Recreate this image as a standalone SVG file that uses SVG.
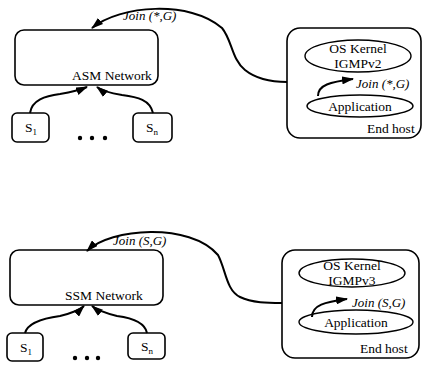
<svg xmlns="http://www.w3.org/2000/svg" width="423" height="365" viewBox="0 0 423 365">
<style>
.box{fill:#fff;stroke:#000;stroke-width:1.6}
.ell{fill:#fff;stroke:#000;stroke-width:1.4}
.t{font-family:"Liberation Serif","Times New Roman",serif;font-size:13.5px;fill:#000}
.lbl{font-family:"Liberation Serif","Times New Roman",serif;font-size:13px;font-style:italic;fill:#000}
.c{fill:none;stroke:#000;stroke-width:2}
</style>
<defs>
<marker id="ah" viewBox="0 0 12 8" refX="11" refY="4" markerWidth="12" markerHeight="8" markerUnits="userSpaceOnUse" orient="auto">
<path d="M0,0 L12,4 L0,8 Z" fill="#000"/>
</marker>
</defs>
<rect width="423" height="365" fill="#fff"/>

<!-- Top: ASM -->
<g id="asm-network">
<rect class="box" x="15" y="30" width="143" height="55" rx="9"/>
<text class="t" x="72" y="80">ASM Network</text>
</g>
<g id="asm-s1">
<rect class="box" x="12" y="113" width="37" height="29" rx="5"/>
<text class="t" x="25" y="132">S<tspan font-size="9" dy="3">1</tspan></text>
</g>
<g id="asm-sn">
<rect class="box" x="133" y="113" width="39" height="29" rx="5"/>
<text class="t" x="146" y="132">S<tspan font-size="9" dy="3">n</tspan></text>
</g>
<g id="asm-dots">
<circle cx="80" cy="138" r="2.2"/><circle cx="92" cy="138" r="2.2"/><circle cx="105" cy="138" r="2.2"/>
</g>
<g id="asm-host">
<rect class="box" x="287" y="28" width="134" height="110" rx="13"/>
<text class="t" x="367" y="133">End host</text>
</g>
<g id="asm-kernel">
<ellipse class="ell" cx="358" cy="56" rx="53" ry="16"/>
<text class="t" x="358" y="53" text-anchor="middle">OS Kernel</text>
<text class="t" x="358" y="68" text-anchor="middle">IGMPv2</text>
</g>
<g id="asm-app">
<ellipse class="ell" cx="360" cy="106" rx="53" ry="11"/>
<text class="t" x="360" y="111" text-anchor="middle">Application</text>
</g>

<!-- Bottom: SSM -->
<g id="ssm-network">
<rect class="box" x="10" y="250" width="153" height="55" rx="9"/>
<text class="t" x="65" y="300">SSM Network</text>
</g>
<g id="ssm-s1">
<rect class="box" x="7" y="333" width="36" height="28" rx="5"/>
<text class="t" x="20" y="352">S<tspan font-size="9" dy="3">1</tspan></text>
</g>
<g id="ssm-sn">
<rect class="box" x="128" y="333" width="37" height="26" rx="5"/>
<text class="t" x="141" y="351">S<tspan font-size="9" dy="3">n</tspan></text>
</g>
<g id="ssm-dots">
<circle cx="75" cy="358" r="2.2"/><circle cx="87" cy="358" r="2.2"/><circle cx="98" cy="358" r="2.2"/>
</g>
<g id="ssm-host">
<rect class="box" x="282" y="250" width="137" height="108" rx="13"/>
<text class="t" x="360" y="353">End host</text>
</g>
<g id="ssm-kernel">
<ellipse class="ell" cx="352" cy="273" rx="53" ry="14"/>
<text class="t" x="352" y="270" text-anchor="middle">OS Kernel</text>
<text class="t" x="352" y="285" text-anchor="middle">IGMPv3</text>
</g>
<g id="ssm-app">
<ellipse class="ell" cx="356" cy="322" rx="57" ry="12"/>
<text class="t" x="356" y="327" text-anchor="middle">Application</text>
</g>

<g id="connectors">
<!-- top -->
<path class="c" marker-end="url(#ah)" d="M287,82 C270,82 255,78 245,70 C232,60 232,40 222,28 C190,0 120,5 92,28"/>
<path class="c" marker-end="url(#ah)" d="M30,113 C32,100 45,96 60,94 C72,92 80,90 87,87"/>
<path class="c" marker-end="url(#ah)" d="M153,113 C150,100 138,97 122,95 C110,93 102,91 97,87"/>
<path class="c" marker-end="url(#ah)" d="M318,96 C318,85 330,82 353,79"/>
<text class="lbl" x="123" y="20">Join (*,G)</text>
<text class="lbl" x="356" y="88">Join (*,G)</text>
<!-- bottom -->
<path class="c" marker-end="url(#ah)" d="M282,303 C268,303 252,303 240,297 C226,290 226,270 218,255 C190,222 110,228 87,251"/>
<path class="c" marker-end="url(#ah)" d="M25,333 C28,322 45,318 60,316 C72,313 80,310 84,306"/>
<path class="c" marker-end="url(#ah)" d="M147,333 C145,322 132,318 117,316 C105,313 97,310 92,306"/>
<path class="c" marker-end="url(#ah)" d="M312,317 C312,305 325,302 347,299"/>
<text class="lbl" x="113" y="245">Join (S,G)</text>
<text class="lbl" x="352" y="307">Join (S,G)</text>
</g>
</svg>
